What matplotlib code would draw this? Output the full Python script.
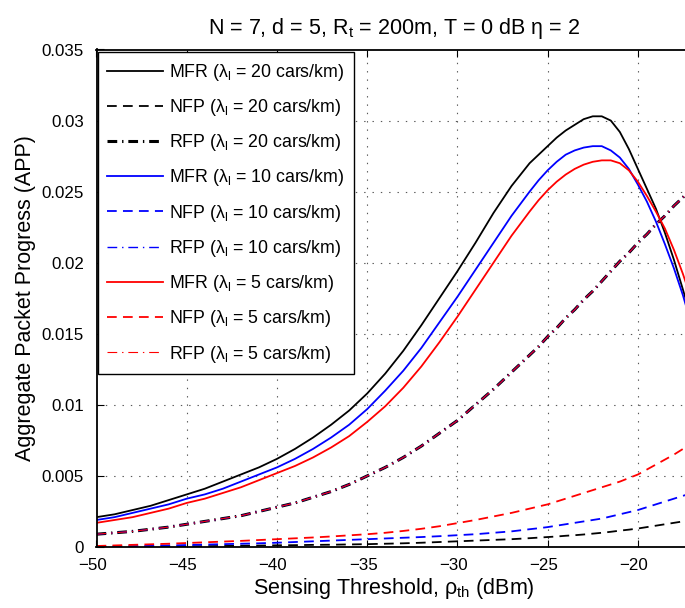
import numpy as np
import matplotlib
matplotlib.use('Agg')
import matplotlib.pyplot as plt
import matplotlib.transforms as mtransforms

plt.rcParams['font.family'] = ['Liberation Sans', 'DejaVu Sans']
plt.rcParams['mathtext.fontset'] = 'custom'
plt.rcParams['mathtext.rm'] = 'Liberation Sans'
plt.rcParams['mathtext.it'] = 'Liberation Sans'
plt.rcParams['lines.scale_dashes'] = False

# Sensing threshold (dBm)
rho = [-50, -49, -48, -47, -46, -45, -44, -43, -42, -41, -40,
       -39, -38, -37, -36, -35, -34, -33, -32, -31, -30,
       -29, -28, -27, -26, -25.5, -25, -24.5, -24, -23.5, -23,
       -22.5, -22, -21.5, -21, -20.5, -20, -19.5, -19, -18.5, -18, -17.5, -17]

# MFR curves
mfr_20 = [0.0021, 0.0023, 0.0026, 0.0029, 0.0033, 0.0037, 0.0041, 0.0046, 0.0051, 0.0056, 0.0062,
          0.0069, 0.0077, 0.0086, 0.0096, 0.0108, 0.0122, 0.0138, 0.0156, 0.0175, 0.0194,
          0.0214, 0.0235, 0.0254, 0.0270, 0.0276, 0.0282, 0.0288, 0.0293, 0.0297, 0.0301,
          0.0303, 0.0303, 0.0300, 0.0292, 0.0280, 0.0266, 0.0252, 0.0238, 0.0221, 0.0202, 0.0181, 0.0159]
mfr_10 = [0.0019, 0.0021, 0.0024, 0.0027, 0.0030, 0.0034, 0.0037, 0.0041, 0.0046, 0.0051, 0.0056,
          0.0062, 0.0069, 0.0077, 0.0086, 0.0097, 0.0110, 0.0124, 0.0140, 0.0158, 0.0176,
          0.0195, 0.0214, 0.0233, 0.0250, 0.0258, 0.0265, 0.0271, 0.0276, 0.0279, 0.0281,
          0.0282, 0.0282, 0.0279, 0.0274, 0.0266, 0.0255, 0.0243, 0.0229, 0.0213, 0.0196, 0.0177, 0.0155]
mfr_5 = [0.0017, 0.0019, 0.0021, 0.0024, 0.0027, 0.0031, 0.0034, 0.0038, 0.0042, 0.0047, 0.0052,
         0.0057, 0.0063, 0.0070, 0.0078, 0.0088, 0.0099, 0.0112, 0.0127, 0.0144, 0.0162,
         0.0181, 0.0200, 0.0219, 0.0236, 0.0244, 0.0251, 0.0257, 0.0262, 0.0266, 0.0269,
         0.0271, 0.0272, 0.0272, 0.0270, 0.0265, 0.0257, 0.0247, 0.0236, 0.0224, 0.0209, 0.0192, 0.0173]

# NFP curves
nfp_20 = [0.00001, 0.00001, 0.00002, 0.00003, 0.00004, 0.00005, 0.00006, 0.00007, 0.00009, 0.0001, 0.00012,
          0.00013, 0.00015, 0.00016, 0.00018, 0.0002, 0.00023, 0.00026, 0.0003, 0.00035, 0.0004,
          0.00045, 0.0005, 0.00055, 0.00062, 0.00066, 0.0007, 0.00074, 0.00079, 0.00083, 0.00088,
          0.00094, 0.0010, 0.00107, 0.00115, 0.00122, 0.0013, 0.0014, 0.0015, 0.0016, 0.0017, 0.0018, 0.0019]
nfp_10 = [0.00002, 0.00004, 0.00006, 0.00008, 0.00011, 0.00014, 0.00017, 0.0002, 0.00023, 0.00026, 0.0003,
          0.00035, 0.0004, 0.00045, 0.0005, 0.00055, 0.0006, 0.00065, 0.0007, 0.00076, 0.00083,
          0.0009, 0.0010, 0.0011, 0.00125, 0.00132, 0.0014, 0.0015, 0.0016, 0.0017, 0.0018,
          0.0019, 0.0020, 0.00215, 0.0023, 0.00245, 0.0026, 0.0028, 0.0030, 0.0032, 0.0034, 0.0036, 0.0038]
nfp_5 = [0.00007, 0.00011, 0.00015, 0.00019, 0.00023, 0.00028, 0.00033, 0.00038, 0.00043, 0.00049, 0.00055,
         0.00061, 0.00067, 0.00074, 0.00082, 0.0009, 0.0010, 0.00113, 0.00128, 0.00146, 0.00168,
         0.0019, 0.00215, 0.0024, 0.0027, 0.00285, 0.0030, 0.0032, 0.0034, 0.0036, 0.0038,
         0.0040, 0.0042, 0.0044, 0.0046, 0.00485, 0.0051, 0.00545, 0.0058, 0.00615, 0.0065, 0.0069, 0.0073]

# RFP curves (the three densities lie on top of each other)
rfp_20 = [0.0009, 0.0010, 0.0011, 0.00125, 0.0014, 0.0016, 0.0018, 0.0020, 0.0022, 0.0025, 0.0028,
          0.0031, 0.0035, 0.0039, 0.0044, 0.0050, 0.0056, 0.0063, 0.0071, 0.0080, 0.0089,
          0.0100, 0.0111, 0.0123, 0.0135, 0.0141, 0.0148, 0.0154, 0.0161, 0.0167, 0.0174,
          0.0180, 0.0187, 0.0194, 0.0201, 0.0207, 0.0214, 0.0220, 0.0227, 0.0233, 0.0240, 0.0246, 0.0253]
rfp_10 = list(rfp_20)
rfp_5 = list(rfp_20)

W, H = 685, 608
fig = plt.figure(figsize=(W / 100, H / 100), dpi=100)
ax = fig.add_axes([96.5 / W, 1 - 547 / H, (692 - 96.5) / W, (547 - 49.5) / H])

dash = (0, (7, 4.5))
dashdot = (0, (7, 3.5, 1, 3.5))

ax.plot(rho, mfr_20, color='k', lw=1.3, ls='-', label=r'MFR ($\lambda_l$ = 20 cars/km)')
ax.plot(rho, nfp_20, color='k', lw=1.3, ls=dash, label=r'NFP ($\lambda_l$ = 20 cars/km)')
ax.plot(rho, rfp_20, color='k', lw=2.2, ls=dashdot, label=r'RFP ($\lambda_l$ = 20 cars/km)')
ax.plot(rho, mfr_10, color='b', lw=1.3, ls='-', label=r'MFR ($\lambda_l$ = 10 cars/km)')
ax.plot(rho, nfp_10, color='b', lw=1.3, ls=dash, label=r'NFP ($\lambda_l$ = 10 cars/km)')
ax.plot(rho, rfp_10, color='b', lw=1.0, ls=dashdot, label=r'RFP ($\lambda_l$ = 10 cars/km)')
ax.plot(rho, mfr_5, color='r', lw=1.3, ls='-', label=r'MFR ($\lambda_l$ = 5 cars/km)')
ax.plot(rho, nfp_5, color='r', lw=1.3, ls=dash, label=r'NFP ($\lambda_l$ = 5 cars/km)')
ax.plot(rho, rfp_5, color='r', lw=0.8, ls=dashdot, label=r'RFP ($\lambda_l$ = 5 cars/km)')

ax.set_xlim(-50, -17)
ax.set_ylim(0, 0.035)
ax.set_xticks([-50, -45, -40, -35, -30, -25, -20])
ax.set_yticks([0, 0.005, 0.01, 0.015, 0.02, 0.025, 0.03, 0.035])
ax.set_yticklabels(['0', '0.005', '0.01', '0.015', '0.02', '0.025', '0.03', '0.035'])
ax.tick_params(direction='in', top=True, right=True, length=5, width=0.8,
               labelsize=12.2, colors='k')
ax.tick_params(axis='x', pad=8)
ax.tick_params(axis='y', pad=9)
for s in ax.spines.values():
    s.set_linewidth(1.3)

# x tick labels sit a little left of their ticks, as in the original
shift = mtransforms.ScaledTranslation(-4 / 100, 0, fig.dpi_scale_trans)
for lab in ax.get_xticklabels():
    lab.set_transform(lab.get_transform() + shift)

ax.grid(True, color='0.35', ls=(0, (1, 5)), lw=0.8)

ax.set_title(r'N = 7, d = 5, R$_t$ = 200m, T = 0 dB $\eta$ = 2', fontsize=15.5, pad=11)
ax.set_xlabel(r'Sensing Threshold, $\rho_{th}$ (dBm)', fontsize=15.5, labelpad=2)
ax.set_ylabel('Aggregate Packet Progress (APP)', fontsize=15.5, labelpad=4)

leg = ax.legend(loc='upper left', bbox_to_anchor=(0.002, 0.995), borderaxespad=0,
                fontsize=12.8, handlelength=3.1, handletextpad=0.35, labelspacing=0.8,
                borderpad=0.55, fancybox=False, framealpha=1, edgecolor='k')
leg.get_frame().set_linewidth(1.0)

fig.savefig('out.png', dpi=100)
